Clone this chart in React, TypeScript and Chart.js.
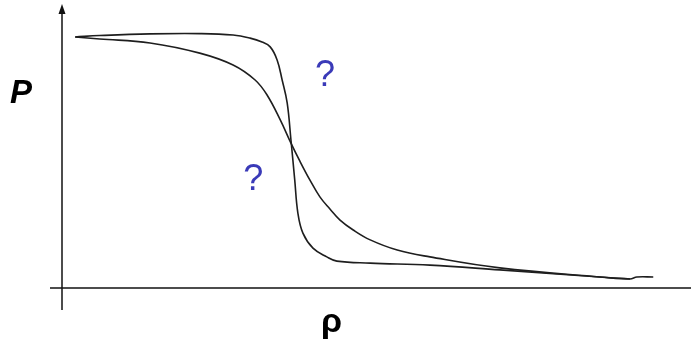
import React, { useEffect, useRef } from "react";
import { Chart, registerables } from "chart.js";

Chart.register(...registerables);

// Density (ρ) and pressure (P) in arbitrary units, two competing isotherm curves
const rhoSharp = [0.21, 0.6, 1.4, 2.19, 2.72, 2.99, 3.18, 3.31, 3.42, 3.5, 3.58, 3.64, 3.7, 3.75, 3.83, 3.99, 4.21, 4.37, 4.9, 5.85, 6.96, 8.55, 9.03, 9.14, 9.4];
const pSharp = [8.87, 8.92, 8.98, 8.99, 8.94, 8.83, 8.69, 8.52, 8.06, 7.35, 6.54, 5.23, 3.82, 2.65, 1.94, 1.41, 1.1, 0.95, 0.88, 0.81, 0.64, 0.39, 0.32, 0.39, 0.39];

const rhoSmooth = [0.21, 0.6, 1.4, 2.19, 2.72, 3.07, 3.26, 3.47, 3.64, 3.78, 3.94, 4.1, 4.26, 4.42, 4.63, 4.9, 5.33, 5.85, 6.96, 8.55, 9.03];
const pSmooth = [8.87, 8.8, 8.66, 8.3, 7.88, 7.35, 6.82, 5.94, 5.12, 4.49, 3.82, 3.22, 2.79, 2.4, 2.05, 1.7, 1.34, 1.1, 0.71, 0.39, 0.32];

// Question marks placed in data space
const questionRho = [4.18, 3.04];
const questionP = [7.14, 3.46];

const toPoints = (xs: number[], ys: number[]) => xs.map((x, i) => ({ x, y: ys[i] }));

const axesPlugin = {
  id: "axesWithArrow",
  afterDatasetsDraw(chart: any) {
    const { ctx, scales } = chart;
    const x0 = scales.x.getPixelForValue(0);
    const y0 = scales.y.getPixelForValue(0);
    ctx.save();
    ctx.strokeStyle = "#111";
    ctx.fillStyle = "#111";
    ctx.lineWidth = 1.5;
    // vertical axis, running slightly past the horizontal one
    ctx.beginPath();
    ctx.moveTo(x0, 12);
    ctx.lineTo(x0, y0 + 22);
    ctx.stroke();
    // arrow head
    ctx.beginPath();
    ctx.moveTo(x0, 4);
    ctx.lineTo(x0 - 3.5, 14);
    ctx.lineTo(x0 + 3.5, 14);
    ctx.closePath();
    ctx.fill();
    // horizontal axis
    ctx.beginPath();
    ctx.moveTo(x0 - 12, y0);
    ctx.lineTo(chart.width, y0);
    ctx.stroke();

    // axis labels
    ctx.fillStyle = "#000";
    ctx.textBaseline = "alphabetic";
    ctx.textAlign = "left";
    ctx.font = "italic bold 33px 'Liberation Sans', Arial, sans-serif";
    ctx.fillText("P", 10, 103);
    ctx.font = "bold 34px 'Liberation Sans', Arial, sans-serif";
    ctx.fillText("ρ", 321, 332);

    // question marks
    ctx.fillStyle = "#3a3ab8";
    ctx.font = "36px 'Liberation Sans', Arial, sans-serif";
    ctx.textAlign = "center";
    questionRho.forEach((r, i) => {
      const px = scales.x.getPixelForValue(r);
      const py = scales.y.getPixelForValue(questionP[i]);
      ctx.fillText("?", px, py);
    });
    ctx.restore();
  },
};

export default function App() {
  const canvasRef = useRef<HTMLCanvasElement | null>(null);

  useEffect(() => {
    if (!canvasRef.current) return;
    const lineStyle = {
      borderColor: "#1e1e1e",
      borderWidth: 1.6,
      pointRadius: 0,
      showLine: true,
      fill: false,
      tension: 0.4,
    };
    const chart = new Chart(canvasRef.current, {
      type: "scatter",
      data: {
        datasets: [
          { label: "sharp", data: toPoints(rhoSharp, pSharp), ...lineStyle },
          { label: "smooth", data: toPoints(rhoSmooth, pSmooth), ...lineStyle },
        ],
      },
      options: {
        responsive: false,
        animation: false,
        layout: { padding: { left: 62, right: 0, top: 5, bottom: 55 } },
        plugins: { legend: { display: false }, tooltip: { enabled: false } },
        scales: {
          x: { type: "linear", min: 0, max: 10, display: false },
          y: { type: "linear", min: 0, max: 10, display: false },
        },
      },
      plugins: [axesPlugin],
    });
    return () => chart.destroy();
  }, []);

  return (
    <div style={{ position: "fixed", left: 0, top: 0, width: 691, height: 343, background: "#fff" }}>
      <canvas ref={canvasRef} width={691} height={343} />
    </div>
  );
}
